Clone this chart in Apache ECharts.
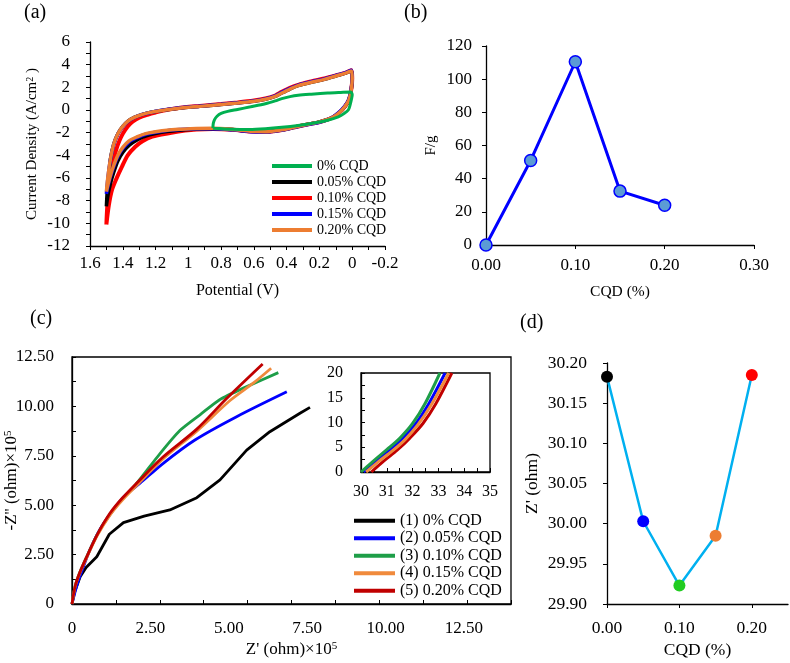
<!DOCTYPE html>
<html><head><meta charset="utf-8">
<script src="https://cdn.jsdelivr.net/npm/echarts@6/dist/echarts.min.js"></script>
<style>html,body{margin:0;padding:0;background:#fff}#c{width:790px;height:663px}</style>
</head><body><div id="c"></div>
<script>
// ---------- (a) Cyclic voltammetry: [potential V, current density] ----------
const cv0 = [[0.85,-1.6],[0.848,-1.2],[0.84,-0.85],[0.825,-0.55],[0.80,-0.3],[0.76,-0.12],[0.70,0.05],[0.62,0.28],[0.53,0.55],[0.47,0.8],[0.43,1.0],[0.38,1.18],[0.33,1.3],[0.25,1.4],[0.15,1.5],[0.07,1.55],[0.01,1.58],[0.0,1.35],[0.004,1.0],[0.012,0.5],[0.024,0.0],[0.05,-0.32],[0.085,-0.6],[0.15,-0.9],[0.225,-1.12],[0.33,-1.36],[0.43,-1.53],[0.53,-1.65],[0.63,-1.71],[0.73,-1.69],[0.85,-1.6]];
const cv005 = [[1.50,-8.5],[1.495,-7.2],[1.485,-5.8],[1.475,-4.3],[1.455,-3.0],[1.43,-2.1],[1.40,-1.45],[1.37,-1.0],[1.33,-0.65],[1.28,-0.38],[1.22,-0.18],[1.12,0.05],[1.02,0.22],[0.93,0.32],[0.80,0.48],[0.70,0.62],[0.60,0.78],[0.53,0.95],[0.47,1.2],[0.43,1.5],[0.38,1.85],[0.33,2.15],[0.25,2.45],[0.17,2.7],[0.10,3.0],[0.04,3.25],[0.005,3.45],[0.0,2.8],[0.005,1.9],[0.02,0.9],[0.045,0.3],[0.08,-0.25],[0.125,-0.7],[0.20,-1.05],[0.27,-1.25],[0.35,-1.5],[0.43,-1.75],[0.53,-1.92],[0.62,-1.88],[0.73,-1.72],[0.85,-1.65],[0.95,-1.68],[1.05,-1.78],[1.13,-1.9],[1.20,-2.08],[1.26,-2.3],[1.31,-2.62],[1.36,-3.1],[1.40,-3.75],[1.43,-4.5],[1.455,-5.5],[1.475,-6.5],[1.49,-7.5],[1.50,-8.5]];
const cv010 = [[1.50,-10.1],[1.495,-8.6],[1.487,-7.3],[1.475,-5.8],[1.46,-4.6],[1.44,-3.5],[1.42,-2.7],[1.40,-2.1],[1.37,-1.45],[1.34,-1.03],[1.30,-0.68],[1.25,-0.42],[1.20,-0.22],[1.12,0.04],[1.02,0.24],[0.93,0.36],[0.80,0.53],[0.70,0.67],[0.60,0.84],[0.53,1.02],[0.47,1.28],[0.43,1.6],[0.38,1.95],[0.33,2.22],[0.25,2.52],[0.17,2.78],[0.10,3.05],[0.04,3.3],[0.005,3.5],[0.0,2.8],[0.005,1.9],[0.02,0.9],[0.045,0.3],[0.08,-0.25],[0.125,-0.7],[0.20,-1.07],[0.27,-1.27],[0.35,-1.52],[0.43,-1.77],[0.53,-1.94],[0.62,-1.9],[0.73,-1.75],[0.85,-1.68],[0.95,-1.72],[1.02,-1.82],[1.12,-2.05],[1.22,-2.35],[1.28,-2.75],[1.324,-3.24],[1.37,-4.0],[1.405,-5.0],[1.44,-6.1],[1.466,-7.06],[1.485,-8.4],[1.50,-10.1]];
const cv015 = [[1.50,-7.4],[1.49,-5.9],[1.475,-4.35],[1.455,-3.05],[1.43,-2.12],[1.40,-1.48],[1.37,-1.02],[1.33,-0.66],[1.28,-0.38],[1.22,-0.17],[1.12,0.07],[1.02,0.24],[0.93,0.34],[0.80,0.5],[0.70,0.64],[0.60,0.8],[0.53,0.98],[0.47,1.24],[0.43,1.55],[0.38,1.9],[0.33,2.2],[0.25,2.5],[0.17,2.75],[0.10,3.05],[0.04,3.3],[0.005,3.5],[0.0,2.8],[0.006,1.9],[0.022,0.9],[0.048,0.3],[0.085,-0.25],[0.13,-0.72],[0.20,-1.08],[0.27,-1.28],[0.35,-1.53],[0.43,-1.78],[0.53,-1.95],[0.62,-1.91],[0.73,-1.75],[0.85,-1.65],[0.95,-1.66],[1.05,-1.73],[1.13,-1.82],[1.20,-1.97],[1.26,-2.14],[1.31,-2.42],[1.36,-2.8],[1.40,-3.4],[1.43,-4.1],[1.46,-5.2],[1.485,-6.4],[1.50,-7.4]];
const cv020 = [[1.50,-7.2],[1.49,-5.8],[1.475,-4.3],[1.455,-3.0],[1.43,-2.1],[1.40,-1.45],[1.37,-1.0],[1.33,-0.65],[1.28,-0.38],[1.22,-0.18],[1.12,0.05],[1.02,0.22],[0.93,0.32],[0.80,0.48],[0.70,0.62],[0.60,0.78],[0.53,0.95],[0.47,1.2],[0.43,1.5],[0.38,1.85],[0.33,2.15],[0.25,2.45],[0.17,2.7],[0.10,3.0],[0.04,3.25],[0.005,3.45],[0.0,2.8],[0.005,1.9],[0.02,0.9],[0.045,0.3],[0.08,-0.25],[0.125,-0.7],[0.20,-1.05],[0.27,-1.25],[0.35,-1.5],[0.43,-1.75],[0.53,-1.92],[0.62,-1.88],[0.73,-1.72],[0.85,-1.62],[0.95,-1.63],[1.05,-1.7],[1.13,-1.78],[1.20,-1.92],[1.26,-2.08],[1.31,-2.35],[1.36,-2.7],[1.40,-3.3],[1.43,-4.0],[1.46,-5.1],[1.485,-6.3],[1.50,-7.2]];
const cvNames = ['0% CQD','0.05% CQD','0.10% CQD','0.15% CQD','0.20% CQD'];

// ---------- (b) Specific capacitance ----------
const cqd = [0, 0.05, 0.10, 0.15, 0.20];
const capacitance = [0, 51, 110.5, 32.5, 24];

// ---------- (c) Nyquist: [Z' x1e5, -Z'' x1e5] ----------
const eis0 = [[0,0],[0.08,0.6],[0.26,1.38],[0.45,1.85],[0.79,2.39],[1.19,3.53],[1.64,4.12],[2.3,4.45],[3.12,4.76],[3.98,5.38],[4.72,6.28],[5.57,7.79],[6.31,8.72],[7.27,9.65],[7.59,9.95]];
const eis005 = [[0,0],[0.15,0.9],[0.3,1.6],[0.57,2.73],[0.9,3.8],[1.32,4.76],[1.7,5.5],[2.17,6.11],[2.91,7.12],[3.92,8.3],[5.25,9.48],[6.85,10.74]];
const eis010 = [[0,0],[0.1,0.9],[0.25,1.6],[0.47,2.4],[0.8,3.5],[1.21,4.55],[1.6,5.3],[2.06,6.1],[2.8,7.6],[3.44,8.78],[4.1,9.6],[4.72,10.35],[5.5,10.95],[6.58,11.71]];
const eis015 = [[0,0],[0.1,0.88],[0.25,1.57],[0.47,2.35],[0.8,3.45],[1.21,4.5],[1.6,5.25],[2.06,6.0],[2.91,7.35],[3.98,8.75],[5.04,10.3],[5.8,11.2],[6.35,11.93]];
const eis020 = [[0,0],[0.1,0.9],[0.25,1.6],[0.47,2.39],[0.8,3.5],[1.21,4.59],[1.6,5.35],[2.06,6.11],[2.91,7.45],[3.98,8.85],[4.93,10.4],[6.08,12.15]];
const eisNames = ['(1) 0% CQD','(2) 0.05% CQD','(3) 0.10% CQD','(4) 0.15% CQD','(5) 0.20% CQD'];
// inset (high-frequency region)
const ins005 = [[30.1,0],[30.6,2.3],[31.1,4.4],[31.6,6.7],[32.1,9.6],[32.65,14],[33.26,20]];
const ins010 = [[30.0,0],[30.5,2.3],[31.0,4.5],[31.5,6.8],[32.0,9.8],[32.5,14],[33.06,20]];
const ins015 = [[30.2,0],[30.7,2.2],[31.2,4.2],[31.7,6.5],[32.2,9.5],[32.75,13.8],[33.4,20]];
const ins020 = [[30.4,0],[30.9,2.3],[31.4,4.4],[31.9,6.9],[32.4,9.8],[32.9,13.8],[33.52,20]];

// ---------- (d) Z' intercept ----------
const zReal = [30.183, 30.003, 29.923, 29.985, 30.185];

// ---------- styles ----------
const FONT = 'Liberation Serif';
const dColors = ['#000000','#0000ff','#22cc22','#ed7d31','#ff0000'];
const K = '#000';
const axisLine = {show:true, onZero:false, lineStyle:{color:K, width:1.3}};
function lab(size, margin, fmt){ return {color:K, fontFamily:FONT, fontSize:size, margin:margin, formatter:fmt}; }
function nameStyle(size){ return {color:K, fontFamily:FONT, fontSize:size}; }
const f2 = v => v.toFixed(2);
const f2z = v => v === 0 ? '0' : v.toFixed(2);
const none = {show:false};
const sup = size => ({s:{fontFamily:FONT, fontSize:size, color:K, verticalAlign:'top', lineHeight:size}});

const chart = echarts.init(document.getElementById('c'), null, {renderer:'canvas'});
chart.setOption({
  animation:false,
  backgroundColor:'#fff',
  grid:[
    {left:90, top:42, width:295, height:204, outerBoundsMode:'none'},
    {left:486, top:46, width:268, height:199, outerBoundsMode:'none'},
    {left:72, top:357, width:439, height:247, show:true, borderColor:K, borderWidth:1.3, outerBoundsMode:'none'},
    {left:361, top:373, width:129, height:99, show:true, borderColor:K, borderWidth:1.3, backgroundColor:'#fff', outerBoundsMode:'none'},
    {left:607, top:363, width:181, height:241, outerBoundsMode:'none'}
  ],
  xAxis:[
    {type:'value', gridIndex:0, min:-0.2, max:1.6, interval:0.2, inverse:true, axisLine,
     axisTick:{show:true, length:4, lineStyle:{color:K}}, minorTick:{show:true, splitNumber:2, length:4, lineStyle:{color:K}},
     splitLine:none, minorSplitLine:none, axisLabel:lab(17, 9),
     name:'Potential (V)', nameLocation:'middle', nameGap:37, nameMoveOverlap:false, nameTextStyle:nameStyle(16)},
    {type:'value', gridIndex:1, min:0, max:0.3, interval:0.1, axisLine,
     axisTick:{show:true, length:4, lineStyle:{color:K}}, splitLine:none, axisLabel:lab(17, 12, f2),
     name:'CQD (%)', nameLocation:'middle', nameGap:39, nameMoveOverlap:false, nameTextStyle:nameStyle(15.5)},
    {type:'value', gridIndex:2, min:0, max:14, interval:2.5, axisLine,
     axisTick:none, splitLine:none, axisLabel:Object.assign(lab(17, 16, f2z), {showMaxLabel:false}),
     name:"Z' (ohm)×10{s|5}", nameLocation:'middle', nameGap:37, nameMoveOverlap:false,
     nameTextStyle:Object.assign(nameStyle(17), {rich:sup(11)})},
    {type:'value', gridIndex:2, min:0, max:14, interval:1.4, position:'bottom', axisLine:none,
     axisTick:{show:true, inside:true, length:4, lineStyle:{color:K}}, splitLine:none, axisLabel:none},
    {type:'value', gridIndex:3, min:30, max:35, interval:1, axisLine,
     axisTick:{show:true, inside:true, length:4, lineStyle:{color:K}}, minorTick:{show:true, splitNumber:2, length:4, lineStyle:{color:K}},
     splitLine:none, minorSplitLine:none, axisLabel:lab(16, 12)},
    {type:'value', gridIndex:4, min:0, max:0.25, interval:0.1, axisLine,
     axisTick:{show:true, length:4, lineStyle:{color:K}}, splitLine:none,
     axisLabel:Object.assign(lab(17.5, 15, f2), {showMaxLabel:false}),
     name:'CQD (%)', nameLocation:'middle', nameGap:37, nameMoveOverlap:false, nameTextStyle:nameStyle(17.5)}
  ],
  yAxis:[
    {type:'value', gridIndex:0, min:-12, max:6, interval:2, axisLine,
     axisTick:{show:true, length:4, lineStyle:{color:K}}, minorTick:{show:true, splitNumber:2, length:4, lineStyle:{color:K}},
     splitLine:none, minorSplitLine:none, axisLabel:lab(17, 20),
     name:'Current Density (A/cm{s|2} )', nameLocation:'middle', nameGap:50, nameMoveOverlap:false,
     nameTextStyle:Object.assign(nameStyle(15), {rich:sup(10)})},
    {type:'value', gridIndex:1, min:0, max:120, interval:20, axisLine,
     axisTick:{show:true, length:4, lineStyle:{color:K}}, splitLine:none, axisLabel:lab(17, 14),
     name:'F/g', nameLocation:'middle', nameGap:47, nameMoveOverlap:false, nameTextStyle:nameStyle(15)},
    {type:'value', gridIndex:2, min:0, max:12.5, interval:2.5, axisLine,
     axisTick:{show:true, inside:true, length:4, lineStyle:{color:K}}, minorTick:{show:true, splitNumber:2, length:4, lineStyle:{color:K}},
     splitLine:none, minorSplitLine:none, axisLabel:lab(17, 18, f2z),
     name:"-Z'' (ohm)×10{s|5}", nameLocation:'middle', nameGap:52, nameMoveOverlap:false,
     nameTextStyle:Object.assign(nameStyle(17), {rich:sup(11)})},
    {type:'value', gridIndex:3, min:0, max:20, interval:5, axisLine,
     axisTick:{show:true, inside:true, length:4, lineStyle:{color:K}}, minorTick:{show:true, splitNumber:2, length:4, lineStyle:{color:K}},
     splitLine:none, minorSplitLine:none, axisLabel:lab(16, 18)},
    {type:'value', gridIndex:4, min:29.9, max:30.2, interval:0.05, axisLine,
     axisTick:{show:true, length:4, lineStyle:{color:K}}, splitLine:none, axisLabel:lab(17.5, 20, f2),
     name:"Z' (ohm)", nameLocation:'middle', nameGap:66, nameMoveOverlap:false, nameTextStyle:nameStyle(17.5)}
  ],
  legend:[
    {data:cvNames, orient:'vertical', left:272, top:158, itemWidth:40, itemHeight:4, icon:'rect', itemGap:0,
     textStyle:{fontFamily:FONT, fontSize:14, color:K, lineHeight:16}, padding:0, selectedMode:false},
    {data:eisNames, orient:'vertical', left:354, top:512, itemWidth:41, itemHeight:4, icon:'rect', itemGap:0,
     textStyle:{fontFamily:FONT, fontSize:16, color:K, lineHeight:17.5}, padding:0, selectedMode:false}
  ],
  graphic:[
    {type:'text', left:24, top:3, style:{text:'(a)', font:'20px "Liberation Serif"', fill:K}},
    {type:'text', left:404, top:3, style:{text:'(b)', font:'20px "Liberation Serif"', fill:K}},
    {type:'text', left:30, top:309, style:{text:'(c)', font:'20px "Liberation Serif"', fill:K}},
    {type:'text', left:520, top:313, style:{text:'(d)', font:'20px "Liberation Serif"', fill:K}}
  ],
  series:[
    // (a) — drawn bottom-up so orange sits on top
    {name:cvNames[2], type:'line', xAxisIndex:0, yAxisIndex:0, data:cv010, showSymbol:false, smooth:0.3, color:'#ff0000', lineStyle:{width:4}},
    {name:cvNames[1], type:'line', xAxisIndex:0, yAxisIndex:0, data:cv005, showSymbol:false, smooth:0.3, color:'#000000', lineStyle:{width:3.5}},
    {name:cvNames[3], type:'line', xAxisIndex:0, yAxisIndex:0, data:cv015, showSymbol:false, smooth:0.3, color:'#0000ff', lineStyle:{width:3.5}},
    {name:cvNames[4], type:'line', xAxisIndex:0, yAxisIndex:0, data:cv020, showSymbol:false, smooth:0.3, color:'#ed7d31', lineStyle:{width:3.5}},
    {name:cvNames[0], type:'line', xAxisIndex:0, yAxisIndex:0, data:cv0, showSymbol:false, smooth:0.3, color:'#00b050', lineStyle:{width:3}},
    // (b)
    {name:'F/g', type:'line', xAxisIndex:1, yAxisIndex:1, data:cqd.map((x,i)=>[x, capacitance[i]]),
     symbol:'circle', symbolSize:12, lineStyle:{color:'#0000ff', width:3},
     itemStyle:{color:'#5b9bd5', borderColor:'#0000ff', borderWidth:1.5}},
    // (c) main
    {name:eisNames[0], type:'line', xAxisIndex:2, yAxisIndex:2, data:eis0, showSymbol:false, color:'#000000', lineStyle:{width:2.8}},
    {name:eisNames[1], type:'line', xAxisIndex:2, yAxisIndex:2, data:eis005, showSymbol:false, smooth:0.3, color:'#0000ff', lineStyle:{width:2.8}},
    {name:eisNames[2], type:'line', xAxisIndex:2, yAxisIndex:2, data:eis010, showSymbol:false, smooth:0.2, color:'#1e9e48', lineStyle:{width:2.8}},
    {name:eisNames[3], type:'line', xAxisIndex:2, yAxisIndex:2, data:eis015, showSymbol:false, smooth:0.3, color:'#f08a3c', lineStyle:{width:2.8}},
    {name:eisNames[4], type:'line', xAxisIndex:2, yAxisIndex:2, data:eis020, showSymbol:false, smooth:0.3, color:'#c00000', lineStyle:{width:2.8}},
    // (c) inset
    {name:'inset 0.05', type:'line', xAxisIndex:4, yAxisIndex:3, data:ins005, showSymbol:false, smooth:0.3, color:'#0000ff', lineStyle:{width:3}},
    {name:'inset 0.20', type:'line', xAxisIndex:4, yAxisIndex:3, data:ins020, showSymbol:false, smooth:0.3, color:'#c00000', lineStyle:{width:3}},
    {name:'inset 0.15', type:'line', xAxisIndex:4, yAxisIndex:3, data:ins015, showSymbol:false, smooth:0.3, color:'#f08a3c', lineStyle:{width:3}},
    {name:'inset 0.10', type:'line', xAxisIndex:4, yAxisIndex:3, data:ins010, showSymbol:false, smooth:0.3, color:'#1e9e48', lineStyle:{width:3}},
    // (d)
    {name:"Z'", type:'line', xAxisIndex:5, yAxisIndex:4,
     data:zReal.map((v,i)=>({value:[cqd[i], v], itemStyle:{color:dColors[i]}})),
     symbol:'circle', symbolSize:12, lineStyle:{color:'#00b0f0', width:2.5}}
  ]
});
</script></body></html>
